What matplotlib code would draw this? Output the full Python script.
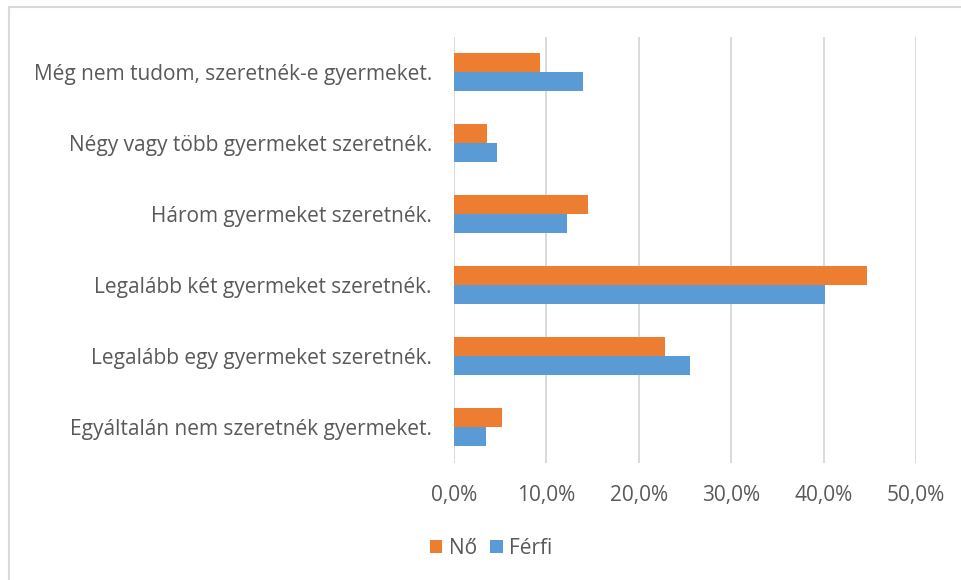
import matplotlib
matplotlib.use("Agg")
import matplotlib.pyplot as plt
import numpy as np
from matplotlib.patches import Rectangle

categories = [
    "Még nem tudom, szeretnék-e gyermeket.",
    "Négy vagy több gyermeket szeretnék.",
    "Három gyermeket szeretnék.",
    "Legalább két gyermeket szeretnék.",
    "Legalább egy gyermeket szeretnék.",
    "Egyáltalán nem szeretnék gyermeket.",
]
no_values = [9.3, 3.6, 14.5, 44.7, 22.8, 5.2]
ferfi_values = [14.0, 4.6, 12.2, 40.2, 25.5, 3.5]
xticks = [0, 10, 20, 30, 40, 50]
xtick_labels = ["0,0%", "10,0%", "20,0%", "30,0%", "40,0%", "50,0%"]

plt.rcParams['font.family'] = ['Open Sans', 'DejaVu Sans']
W, H = 961, 580
fig = plt.figure(figsize=(W/100, H/100), dpi=100)
ax = fig.add_axes([454/W, 1-462.5/H, (916-454)/W, (462.5-36.5)/H])

text_col = "#595959"
orange = "#ED7D31"
blue = "#5B9BD5"
n = len(categories)
y = np.arange(n)[::-1].astype(float)
bh = 0.262
ax.barh(y + bh/2, no_values, height=bh, color=orange, label="Nő", zorder=3)
ax.barh(y - bh/2, ferfi_values, height=bh, color=blue, label="Férfi", zorder=3)

ax.set_xlim(0, 50)
ax.set_ylim(-0.5, n-0.5)
ax.set_xticks(xticks)
ax.set_xticklabels(xtick_labels)
ax.set_yticks(y)
ax.set_yticklabels(categories)
ax.grid(axis='x', color="#D9D9D9", linewidth=1.4, zorder=0)
ax.set_axisbelow(True)
for s in ax.spines.values():
    s.set_visible(False)
ax.tick_params(axis='both', length=0, colors=text_col, labelsize=15)
ax.tick_params(axis='y', pad=16)
ax.tick_params(axis='x', pad=16)

leg = fig.legend(loc='center', bbox_to_anchor=(491/W, 1-548/H), ncol=2, frameon=False,
                 fontsize=15, handlelength=0.6, handleheight=0.6, handletextpad=0.3,
                 columnspacing=0.65, labelcolor=text_col)

fig.patches.append(Rectangle((8.5/W, -0.2), 1.2, 1.2-7/H, transform=fig.transFigure,
                             fill=False, edgecolor="#D9D9D9", linewidth=1.5))
fig.savefig("out.png", dpi=100, facecolor="white")
